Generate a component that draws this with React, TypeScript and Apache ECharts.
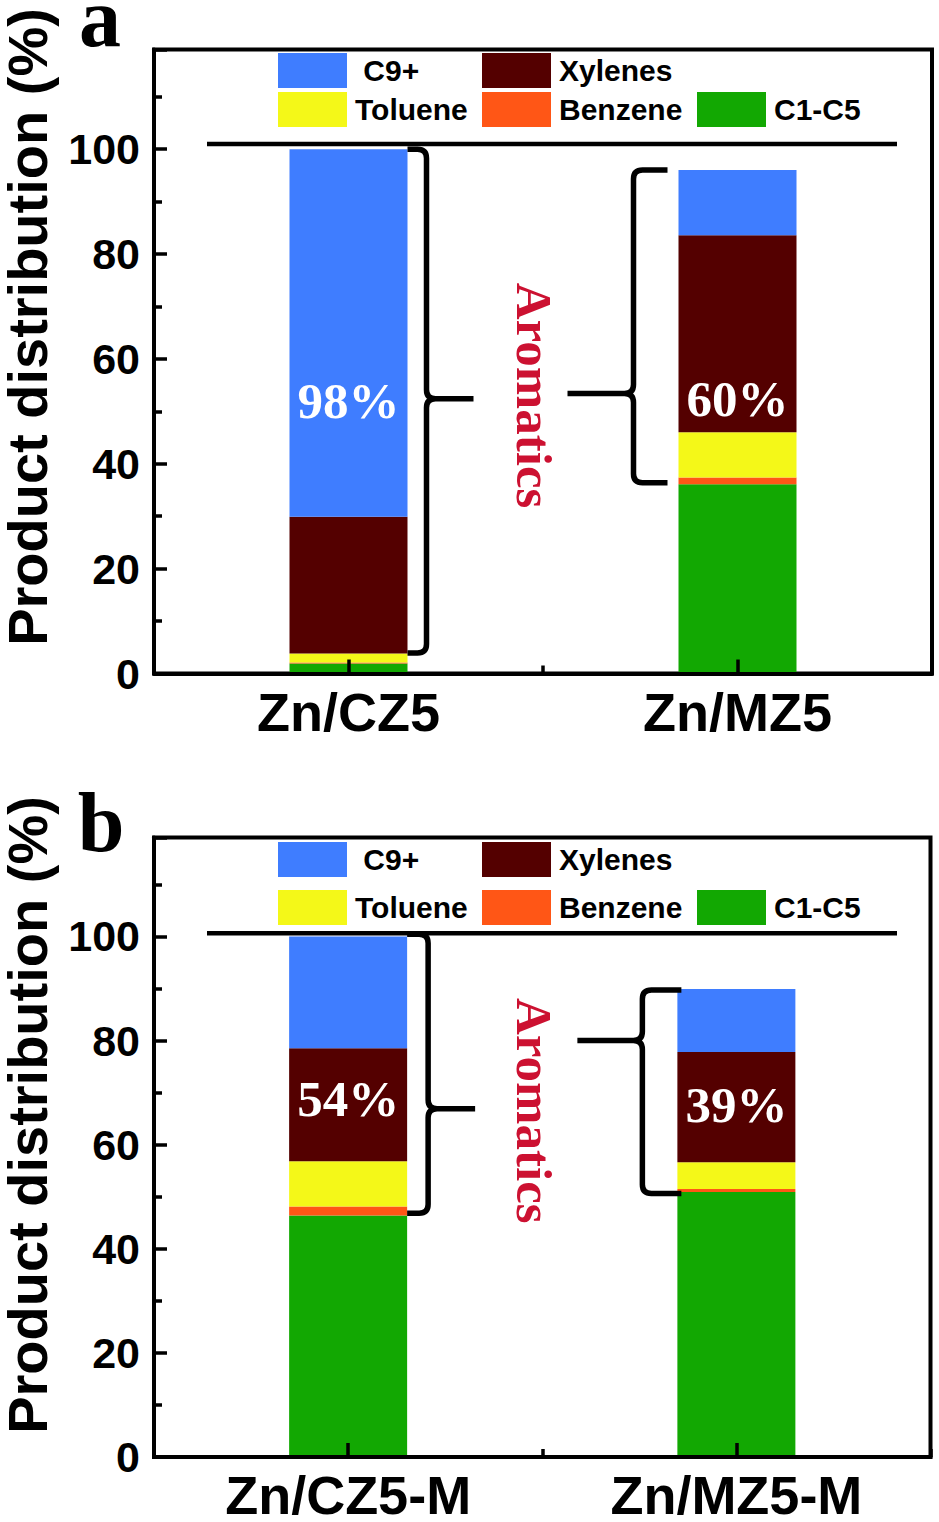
import React, { useEffect, useRef } from 'react';
import * as echarts from 'echarts';

// ---------- data ----------
const seriesNames = ['C1-C5', 'Benzene', 'Toluene', 'Xylenes', 'C9+'];
const categoriesA = ['Zn/CZ5', 'Zn/MZ5'];
const categoriesB = ['Zn/CZ5-M', 'Zn/MZ5-M'];

const c1c5A = [1.9, 36.1];
const benzeneA = [0.2, 1.3];
const tolueneA = [1.7, 8.6];
const xylenesA = [26.1, 37.6];
const c9A = [70.1, 12.4];

const c1c5B = [46.4, 50.9];
const benzeneB = [1.7, 0.6];
const tolueneB = [8.7, 5.1];
const xylenesB = [21.7, 21.2];
const c9B = [21.5, 12.1];

const yTickLabels = [0, 20, 40, 60, 80, 100];

const aromaticLabelsA = ['98%', '60%'];
const aromaticLabelsB = ['54%', '39%'];
const labelLevelA = [52.0, 52.4];
const labelLevelB = [68.8, 67.7];

// braces: [category, low, high, pointer level]
const bracesA = [
  [0, 3.9, 100.0, 52.4],
  [1, 36.4, 96.0, 53.4],
];
const bracesB = [
  [0, 46.8, 100.4, 66.9],
  [1, 50.6, 89.7, 80.0],
];
const totalLevelA = 101.0;
const totalLevelB = 100.6;
const aromaticsLevelA = 53.0;
const aromaticsLevelB = 66.5;

// ---------- styles ----------
const colors: Record<string, string> = {
  'C1-C5': '#12a802',
  Benzene: '#ff5616',
  Toluene: '#f4f818',
  Xylenes: '#540000',
  'C9+': '#3f7dff',
};
const SANS = '"Liberation Sans", Arial, sans-serif';
const SERIF = '"Liberation Serif", "Times New Roman", serif';
const BAR_W = 118;

function bracePath(xC: number, yTop: number, yBot: number, yMid: number, right: boolean, geo: any) {
  const half = BAR_W / 2;
  const r = 9;
  if (right) {
    const edge = xC + half;
    const xv = edge + geo.rOff;
    const tip = xv + geo.rTip;
    return [
      `M ${edge} ${yTop} L ${xv - r} ${yTop} Q ${xv} ${yTop} ${xv} ${yTop + r}`,
      `L ${xv} ${yMid - r} Q ${xv} ${yMid} ${xv + r} ${yMid} L ${tip} ${yMid}`,
      `M ${xv + r} ${yMid} Q ${xv} ${yMid} ${xv} ${yMid + r}`,
      `L ${xv} ${yBot - r} Q ${xv} ${yBot} ${xv - r} ${yBot} L ${edge} ${yBot}`,
    ].join(' ');
  }
  const edge = xC - half;
  const xv = edge - geo.lOff;
  const end = edge + geo.lEnd;
  const tip = xv - geo.lTip;
  return [
    `M ${end} ${yTop} L ${xv + r} ${yTop} Q ${xv} ${yTop} ${xv} ${yTop + r}`,
    `L ${xv} ${yMid - r} Q ${xv} ${yMid} ${xv - r} ${yMid} L ${tip} ${yMid}`,
    `M ${xv - r} ${yMid} Q ${xv} ${yMid} ${xv} ${yMid + r}`,
    `L ${xv} ${yBot - r} Q ${xv} ${yBot} ${xv + r} ${yBot} L ${end} ${yBot}`,
  ].join(' ');
}

function panelSeries(
  g: number,
  xIdx: number,
  vals: number[][],
  labels: string[],
  labelLevels: number[],
  braces: number[][],
  totalLevel: number,
  aromLevel: number,
  geo: any
) {
  const out: any[] = [];
  seriesNames.forEach((name, i) => {
    out.push({
      type: 'bar',
      name,
      xAxisIndex: xIdx,
      yAxisIndex: g,
      stack: 'panel' + g,
      barWidth: BAR_W,
      itemStyle: { color: colors[name] },
      data: vals[i],
      z: 2,
    });
  });
  out.push({
    type: 'custom',
    xAxisIndex: xIdx,
    yAxisIndex: g,
    z: 5,
    silent: true,
    data: braces,
    renderItem: (params: any, api: any) => {
      const cat = api.value(0);
      const pLow = api.coord([cat, api.value(1)]);
      const pHigh = api.coord([cat, api.value(2)]);
      const pMid = api.coord([cat, api.value(3)]);
      const d = bracePath(pLow[0], pHigh[1], pLow[1], pMid[1], cat === 0, geo);
      return {
        type: 'path',
        shape: { pathData: d },
        style: { fill: 'none', stroke: '#000', lineWidth: 5.5, lineJoin: 'round' },
      };
    },
  });
  out.push({
    type: 'custom',
    xAxisIndex: xIdx,
    yAxisIndex: g,
    z: 6,
    silent: true,
    data: labelLevels.map((v, i) => [i, v]),
    renderItem: (params: any, api: any) => {
      const p = api.coord([api.value(0), api.value(1)]);
      return {
        type: 'text',
        x: p[0],
        y: p[1],
        style: {
          text: labels[params.dataIndex],
          fill: '#ffffff',
          fontSize: 51,
          fontWeight: 'bold',
          fontFamily: SERIF,
          align: 'center',
          verticalAlign: 'middle',
        },
      };
    },
  });
  out.push({
    type: 'custom',
    xAxisIndex: xIdx,
    yAxisIndex: g,
    z: 6,
    silent: true,
    data: [[0, totalLevel, aromLevel]],
    renderItem: (params: any, api: any) => {
      const cs = params.coordSys;
      const yLine = api.coord([0, api.value(1)])[1];
      const yText = api.coord([0, api.value(2)])[1];
      return {
        type: 'group',
        children: [
          {
            type: 'line',
            shape: { x1: cs.x + 53, y1: yLine, x2: cs.x + 743, y2: yLine },
            style: { stroke: '#000', lineWidth: 4.5 },
          },
          {
            type: 'text',
            x: cs.x + 380,
            y: yText,
            rotation: -Math.PI / 2,
            style: {
              text: 'Aromatics',
              fill: '#cc1131',
              fontSize: 51,
              fontWeight: 'bold',
              fontFamily: SERIF,
              align: 'center',
              verticalAlign: 'middle',
            },
          },
        ],
      };
    },
  });
  return out;
}

function legendsFor(row1: number, row2: number) {
  const pos: [string, number, number][] = [
    ['C9+', 278, row1],
    ['Xylenes', 482, row1],
    ['Toluene', 278, row2],
    ['Benzene', 482, row2],
    ['C1-C5', 697, row2],
  ];
  return pos.map(([name, left, top]) => ({
    data: [name],
    left,
    top,
    padding: 0,
    icon: 'rect',
    itemWidth: 69,
    itemHeight: 35,
    selectedMode: false,
    formatter: (n: string) => (n === 'C9+' ? ' C9+' : n),
    textStyle: {
      fontSize: 30,
      fontWeight: 'bold',
      fontFamily: SANS,
      color: '#000',
      padding: [0, 0, 0, 3],
    },
  }));
}

function xAxesFor(g: number, cats: string[]) {
  return [
    {
      type: 'category',
      gridIndex: g,
      position: 'bottom',
      data: cats,
      z: 10,
      axisLine: { show: true, lineStyle: { color: '#000', width: 4 } },
      axisTick: { show: true, inside: true, alignWithLabel: true, length: 14, lineStyle: { color: '#000', width: 3.5 } },
      axisLabel: { show: true, margin: 16, lineHeight: 44, fontSize: 54, fontWeight: 'bold', fontFamily: SANS, color: '#000' },
      splitLine: { show: false },
    },
    {
      type: 'category',
      gridIndex: g,
      position: 'bottom',
      data: cats,
      z: 10,
      axisLine: { show: false },
      axisTick: { show: true, inside: true, length: 8, lineStyle: { color: '#000', width: 3.5 } },
      axisLabel: { show: false },
      splitLine: { show: false },
    },
  ];
}

function yAxisFor(g: number) {
  return {
    type: 'value',
    gridIndex: g,
    min: 0,
    max: 119,
    interval: 20,
    z: 10,
    axisLine: { show: true, lineStyle: { color: '#000', width: 4 } },
    axisTick: { show: true, inside: true, length: 13, lineStyle: { color: '#000', width: 3.5 } },
    minorTick: { show: true, splitNumber: 2, length: 8, lineStyle: { color: '#000', width: 3.5 } },
    splitLine: { show: false },
    minorSplitLine: { show: false },
    axisLabel: {
      margin: 14,
      fontSize: 43,
      fontWeight: 'bold',
      fontFamily: SANS,
      color: '#000',
      formatter: (v: number) => (yTickLabels.indexOf(v) >= 0 ? String(v) : ''),
    },
  };
}

export default function App() {
  const ref = useRef<HTMLDivElement>(null);
  useEffect(() => {
    document.body.style.margin = '0';
    if (!ref.current) return;
    const chart = echarts.init(ref.current, undefined, { renderer: 'svg' });
    const geoA = { rOff: 19, rTip: 47, lOff: 45, lTip: 66, lEnd: -11 };
    const geoB = { rOff: 21, rTip: 47, lOff: 35, lTip: 65, lEnd: 4 };
    const titleStyle = {
      text: 'Product distribution (%)', fontSize: 56, lineHeight: 40, fontWeight: 'bold', fontFamily: SANS,
      fill: '#000', align: 'center', verticalAlign: 'middle',
    };
    const letterStyle = { fontSize: 84, lineHeight: 40, fontWeight: 'bold', fontFamily: SERIF, fill: '#000', align: 'center', verticalAlign: 'middle' };
    const option: any = {
      animation: false,
      backgroundColor: '#fff',
      grid: [
        { left: 154, top: 49.5, width: 778, height: 624, show: true, borderColor: '#000', borderWidth: 4, backgroundColor: 'transparent', containLabel: false },
        { left: 154, top: 837.5, width: 776.5, height: 623.5, show: true, borderColor: '#000', borderWidth: 4, backgroundColor: 'transparent', containLabel: false },
      ],
      legend: [...legendsFor(53, 92), ...legendsFor(842, 890)],
      xAxis: [...xAxesFor(0, categoriesA), ...xAxesFor(1, categoriesB)],
      yAxis: [yAxisFor(0), yAxisFor(1)],
      graphic: [
        { type: 'text', x: 27, y: 327, rotation: Math.PI / 2, style: { ...titleStyle } },
        { type: 'text', x: 27, y: 1115, rotation: Math.PI / 2, style: { ...titleStyle } },
        { type: 'text', x: 100, y: 17, style: { ...letterStyle, text: 'a' } },
        { type: 'text', x: 101, y: 822, style: { ...letterStyle, text: 'b' } },
      ],
      series: [
        ...panelSeries(0, 0, [c1c5A, benzeneA, tolueneA, xylenesA, c9A], aromaticLabelsA, labelLevelA, bracesA, totalLevelA, aromaticsLevelA, geoA),
        ...panelSeries(1, 2, [c1c5B, benzeneB, tolueneB, xylenesB, c9B], aromaticLabelsB, labelLevelB, bracesB, totalLevelB, aromaticsLevelB, geoB),
      ],
    };
    chart.setOption(option);
    return () => chart.dispose();
  }, []);
  return <div ref={ref} style={{ width: 939, height: 1522 }} />;
}
